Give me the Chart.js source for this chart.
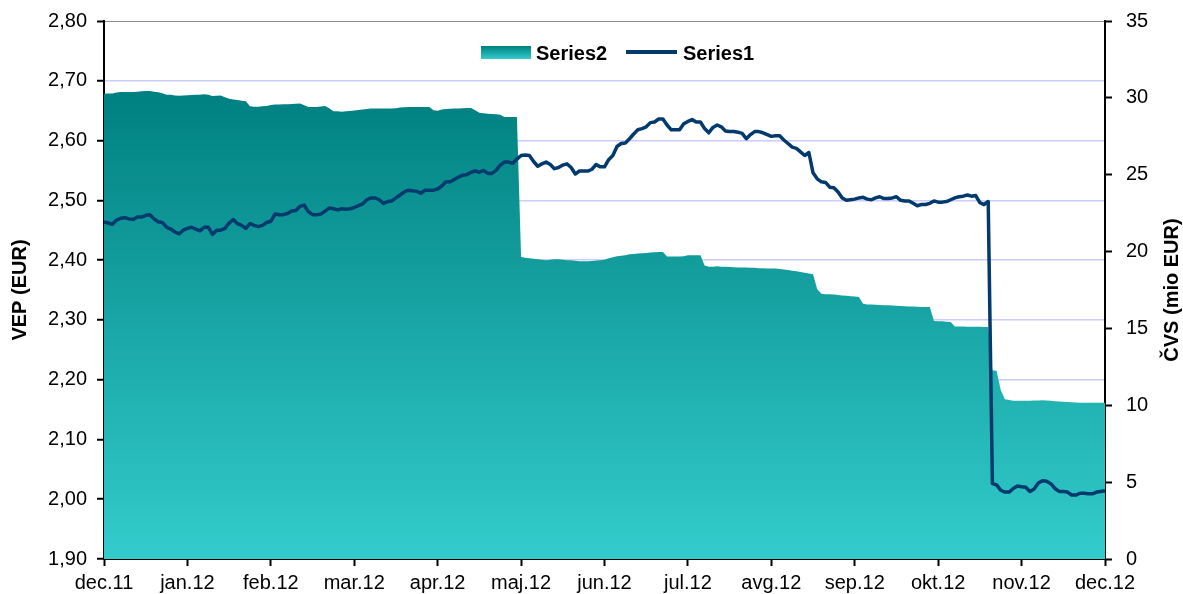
<!DOCTYPE html>
<html><head><meta charset="utf-8">
<script src="https://cdn.jsdelivr.net/npm/chart.js@4/dist/chart.umd.min.js"></script>
<style>
html,body{margin:0;padding:0;background:#fff;}
#wrap{position:relative;width:1183px;height:594px;}
canvas{display:block;}
.lgtext{position:absolute;font:bold 20px "Liberation Sans",Arial,sans-serif;line-height:20px;color:#000;white-space:nowrap;}
.lgsw{position:absolute;}
</style></head><body>
<div id="wrap"><canvas id="c" width="1183" height="594"></canvas><div id="legend"></div></div>
<script>
// ---- data ----
const monthLabels = ['dec.11','jan.12','feb.12','mar.12','apr.12','maj.12','jun.12','jul.12','avg.12','sep.12','okt.12','nov.12','dec.12'];
const pointsPerMonth = 20;
const series1Name = 'Series1';
const series2Name = 'Series2';
const leftTitle = 'VEP (EUR)';
const rightTitle = 'ČVS (mio EUR)';
// Series1: VEP (EUR), left axis
const vep = [
2.464,2.462,2.460,2.467,2.470,2.471,2.469,2.468,2.472,2.472,
2.475,2.476,2.469,2.464,2.463,2.455,2.452,2.447,2.444,2.450,
2.453,2.455,2.452,2.449,2.455,2.455,2.443,2.450,2.450,2.453,
2.462,2.468,2.461,2.458,2.453,2.461,2.458,2.456,2.458,2.463,
2.465,2.477,2.476,2.476,2.478,2.482,2.483,2.490,2.492,2.481,
2.476,2.476,2.477,2.482,2.487,2.486,2.484,2.486,2.485,2.486,
2.488,2.491,2.494,2.501,2.504,2.504,2.501,2.495,2.498,2.499,
2.504,2.509,2.514,2.517,2.516,2.515,2.512,2.517,2.517,2.517,
2.519,2.524,2.531,2.531,2.535,2.539,2.542,2.543,2.547,2.549,
2.547,2.550,2.545,2.545,2.550,2.559,2.564,2.564,2.562,2.569,
2.575,2.576,2.575,2.565,2.557,2.561,2.564,2.560,2.553,2.555,
2.559,2.561,2.555,2.544,2.549,2.549,2.549,2.552,2.560,2.556,
2.556,2.568,2.575,2.590,2.595,2.596,2.603,2.611,2.618,2.620,
2.623,2.630,2.631,2.636,2.636,2.626,2.618,2.618,2.618,2.628,
2.632,2.635,2.631,2.631,2.620,2.613,2.622,2.626,2.623,2.616,
2.615,2.615,2.614,2.612,2.603,2.610,2.615,2.615,2.613,2.610,
2.607,2.608,2.608,2.601,2.595,2.589,2.587,2.581,2.575,2.580,
2.546,2.536,2.531,2.530,2.522,2.521,2.514,2.504,2.500,2.501,
2.502,2.504,2.505,2.502,2.501,2.504,2.506,2.503,2.503,2.504,
2.506,2.500,2.499,2.499,2.495,2.491,2.493,2.493,2.495,2.499,
2.497,2.497,2.498,2.501,2.504,2.506,2.507,2.509,2.507,2.508,
2.496,2.493,2.498,2.026,2.024,2.015,2.012,2.012,2.018,2.022,
2.021,2.020,2.013,2.017,2.027,2.031,2.030,2.026,2.018,2.013,
2.013,2.012,2.007,2.007,2.010,2.010,2.009,2.009,2.012,2.013,
2.014
];
// Series2: ČVS (mio EUR), right axis
const cvs = [
30.27,30.28,30.28,30.35,30.38,30.38,30.38,30.38,30.40,30.43,
30.44,30.44,30.40,30.36,30.30,30.20,30.20,30.15,30.14,30.16,
30.17,30.19,30.21,30.21,30.23,30.20,30.12,30.14,30.16,30.04,
29.94,29.89,29.86,29.81,29.78,29.45,29.42,29.42,29.45,29.47,
29.53,29.57,29.57,29.58,29.58,29.60,29.62,29.63,29.52,29.41,
29.41,29.41,29.44,29.47,29.32,29.13,29.13,29.10,29.13,29.14,
29.17,29.21,29.24,29.27,29.30,29.30,29.30,29.30,29.30,29.30,
29.32,29.37,29.39,29.41,29.41,29.41,29.41,29.41,29.41,29.19,
29.16,29.24,29.27,29.29,29.30,29.31,29.32,29.34,29.34,29.19,
29.03,29.00,28.97,28.95,28.93,28.90,28.76,28.76,28.76,28.76,
19.65,19.60,19.57,19.54,19.50,19.47,19.44,19.47,19.50,19.50,
19.47,19.44,19.44,19.41,19.37,19.37,19.37,19.39,19.42,19.44,
19.47,19.57,19.63,19.70,19.73,19.76,19.82,19.85,19.87,19.89,
19.91,19.94,19.96,19.98,19.98,19.68,19.68,19.68,19.68,19.70,
19.76,19.76,19.76,19.76,19.10,19.01,19.02,19.04,19.02,19.01,
18.99,18.98,18.97,18.97,18.96,18.95,18.94,18.92,18.91,18.90,
18.90,18.90,18.87,18.84,18.80,18.76,18.72,18.67,18.63,18.58,
18.53,17.55,17.26,17.23,17.23,17.20,17.17,17.14,17.12,17.10,
17.07,17.05,16.61,16.56,16.55,16.54,16.52,16.51,16.50,16.49,
16.47,16.46,16.45,16.43,16.42,16.41,16.40,16.40,16.40,15.49,
15.47,15.46,15.44,15.42,15.13,15.12,15.12,15.11,15.11,15.11,
15.11,15.10,15.10,12.28,12.25,11.00,10.40,10.35,10.30,10.29,
10.29,10.29,10.30,10.31,10.31,10.32,10.31,10.29,10.27,10.25,
10.23,10.21,10.20,10.18,10.17,10.17,10.16,10.16,10.16,10.16,
10.16
];
const leftMin = 1.9, leftMax = 2.8, leftStep = 0.1;
const rightMin = 0, rightMax = 35, rightStep = 5;

// ---- styles ----
const FONT = '"Liberation Sans", Arial, sans-serif';
const lineColor = '#023A6E';
const gradTop = '#008080', gradBottom = '#33CCCC';

const pts1 = vep.map((v, i) => ({x: i, y: v}));
const pts2 = cvs.map((v, i) => ({x: i, y: v}));

function areaGradient(context) {
  const chart = context.chart;
  const area = chart.chartArea;
  if (!area) return gradBottom;
  const yTop = chart.scales.y2.getPixelForValue(Math.max(...cvs));
  const g = chart.ctx.createLinearGradient(0, yTop, 0, area.bottom);
  g.addColorStop(0, gradTop);
  g.addColorStop(1, gradBottom);
  return g;
}

const rightTitlePlugin = {
  id: 'rightTitle',
  afterDraw(chart) {
    const {ctx, chartArea} = chart;
    const cy = (chartArea.top + chartArea.bottom) / 2;
    ctx.save();
    ctx.font = 'bold 20px ' + FONT;
    ctx.fillStyle = '#000';
    ctx.textAlign = 'center';
    ctx.textBaseline = 'alphabetic';
    ctx.translate(chart.width - 5, cy);
    ctx.rotate(-Math.PI / 2);
    ctx.fillText(rightTitle, 0, 0);
    ctx.restore();
  }
};

const tickFont = {family: FONT, size: 20};
function fitV(w) { return (s) => { s.width = w; s.paddingTop = 0; s.paddingBottom = 0; }; }

new Chart(document.getElementById('c'), {
  type: 'line',
  data: {
    datasets: [
      {label: series1Name, data: pts1, yAxisID: 'y', borderColor: lineColor, borderWidth: 3.5,
       pointRadius: 0, fill: false, tension: 0, order: 0, borderJoinStyle: 'round'},
      {label: series2Name, data: pts2, yAxisID: 'y2', borderWidth: 0, borderColor: 'rgba(0,0,0,0)',
       backgroundColor: areaGradient, pointRadius: 0, fill: 'origin', tension: 0, order: 1}
    ]
  },
  options: {
    responsive: false,
    devicePixelRatio: 1,
    animation: false,
    events: [],
    layout: {padding: {top: 21, left: 0, right: 0, bottom: 0}},
    plugins: {legend: {display: false}, tooltip: {enabled: false}, title: {display: false}},
    scales: {
      x: {
        type: 'linear', min: 0, max: (monthLabels.length - 1) * pointsPerMonth,
        afterBuildTicks: (s) => { s.ticks = monthLabels.map((_, i) => ({value: i * pointsPerMonth})); },
        ticks: {autoSkip: false, maxRotation: 0, minRotation: 0, padding: 5, color: '#000', font: tickFont,
                callback: (v) => monthLabels[Math.round(v / pointsPerMonth)]},
        grid: {drawOnChartArea: false, drawTicks: true, tickLength: 7, tickColor: '#000', tickWidth: 2},
        border: {display: true, color: '#000', width: 2},
        afterFit: (s) => { s.height = 35; s.paddingLeft = 0; s.paddingRight = 0; }
      },
      y: {
        position: 'left', min: leftMin, max: leftMax,
        ticks: {stepSize: leftStep, padding: 10, color: '#000', font: tickFont,
                callback: (v) => Number(v).toFixed(2).replace('.', ',')},
        grid: {
          drawTicks: true, tickLength: 7, tickColor: '#000', tickWidth: 2,
          color: (c) => {
            const v = c.tick ? c.tick.value : 0;
            if (Math.abs(v - leftMax) < 1e-6) return '#8C8C8C';
            if (Math.abs(v - leftMin) < 1e-6) return 'rgba(0,0,0,0)';
            return '#CCCCFF';
          },
          lineWidth: (c) => (c.tick && Math.abs(c.tick.value - leftMax) < 1e-6) ? 1 : 1.5
        },
        border: {display: true, color: '#000', width: 2},
        title: {display: true, text: leftTitle, color: '#000', font: {family: FONT, size: 20, weight: 'bold'},
                padding: {top: 8, bottom: 0}},
        afterFit: fitV(104)
      },
      y2: {
        position: 'right', min: rightMin, max: rightMax,
        ticks: {stepSize: rightStep, padding: 14, color: '#000', font: tickFont},
        grid: {drawOnChartArea: false, drawTicks: true, tickLength: 7, tickColor: '#000', tickWidth: 2},
        border: {display: true, color: '#000', width: 2},
        afterFit: fitV(78)
      }
    }
  },
  plugins: [rightTitlePlugin]
});

// ---- legend (HTML, real text) ----
const legend = document.getElementById('legend');
function addEl(cls, style, text) {
  const d = document.createElement('div');
  d.className = cls;
  Object.assign(d.style, style);
  if (text) d.textContent = text;
  legend.appendChild(d);
}
addEl('lgsw', {left: '481px', top: '46px', width: '50px', height: '13px',
  background: 'linear-gradient(to bottom,' + gradTop + ',' + gradBottom + ')'});
addEl('lgtext', {left: '536px', top: '43px'}, series2Name);
addEl('lgsw', {left: '626px', top: '50px', width: '51px', height: '4px', background: lineColor});
addEl('lgtext', {left: '683px', top: '43px'}, series1Name);
</script>
</body></html>
